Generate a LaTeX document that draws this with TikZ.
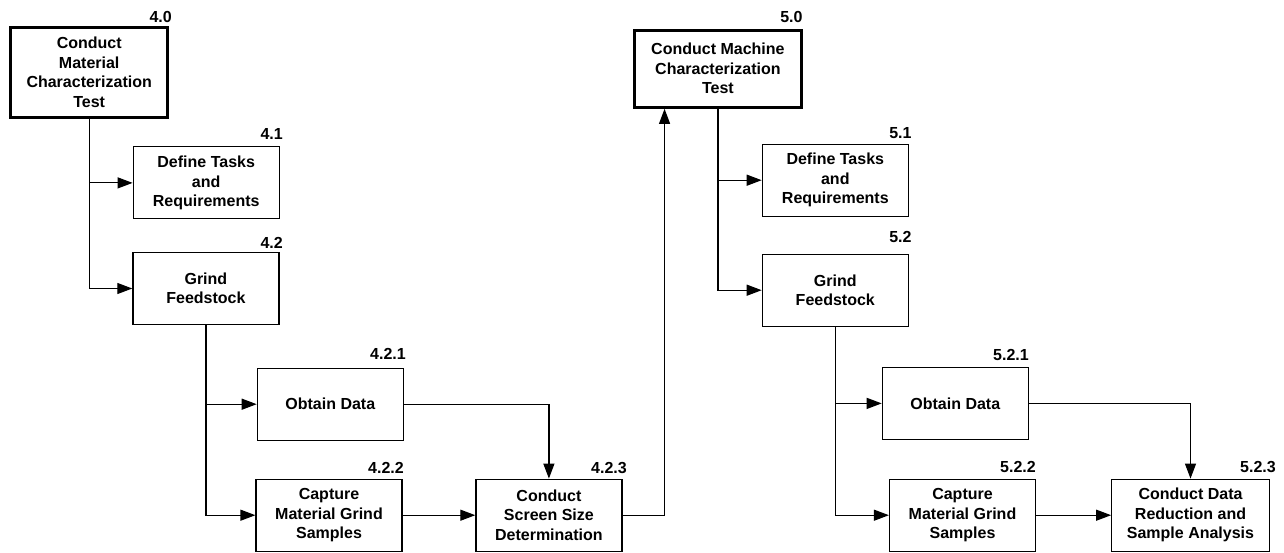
\documentclass[tikz,border=0pt]{standalone}
\usepackage{fontspec}
\setmainfont{Liberation Sans}
\usetikzlibrary{arrows.meta,calc}
\tikzset{
  box/.style={draw, line width=1.2pt, minimum width=146pt, minimum height=72pt, inner sep=2pt, align=center, font=\bfseries\fontsize{16}{19.5}\selectfont},
  topbox/.style={box, line width=3pt},
  lbl/.style={font=\bfseries\fontsize{16}{19}\selectfont, anchor=base east, inner sep=0pt},
  conn/.style={line width=1.2pt},
  arr/.style={conn, -{Triangle[length=15pt,width=11pt]}}
}
\begin{document}
\begin{tikzpicture}[x=1pt,y=-1pt]
\useasboundingbox (0,0) rectangle (1284,553);
% boxes
\node[topbox, minimum width=157pt, minimum height=89.6pt] (b40) at (89.2,72.5) {Conduct\\Material\\Characterization\\Test};
\node[box] (b41) at (206.2,182.9) {Define Tasks\\and\\Requirements};
\node[box] (b42) at (205.9,288.5) {Grind\\Feedstock};
\node[box] (b421) at (330.3,404.2) {Obtain Data};
\node[box] (b422) at (329,515.2) {Capture\\Material Grind\\Samples};
\node[box] (b423) at (548.9,515.2) {Conduct\\Screen Size\\Determination};
\node[topbox, minimum width=167.7pt, minimum height=77.3pt] (b50) at (717.9,68.7) {Conduct Machine\\Characterization\\Test};
\node[box] (b51) at (835.3,180.2) {Define Tasks\\and\\Requirements};
\node[box] (b52) at (835.3,290.2) {Grind\\Feedstock};
\node[box] (b521) at (955.3,403.4) {Obtain Data};
\node[box] (b522) at (962.5,515.2) {Capture\\Material Grind\\Samples};
\node[box, minimum width=157.6pt] (b523) at (1190.5,515.2) {Conduct Data\\Reduction and\\Sample Analysis};
% labels
\node[lbl] (l40) at (172,22.7) {4.0};
\node[lbl] (l41) at (283,140) {4.1};
\node[lbl] (l42) at (283,249) {4.2};
\node[lbl] (l421) at (406,359) {4.2.1};
\node[lbl] (l422) at (404,473) {4.2.2};
\node[lbl] (l423) at (627,473) {4.2.3};
\node[lbl] (l50) at (802.7,23) {5.0};
\node[lbl] (l51) at (911.7,139) {5.1};
\node[lbl] (l52) at (911.7,243) {5.2};
\node[lbl] (l521) at (1029,360) {5.2.1};
\node[lbl] (l522) at (1036,472) {5.2.2};
\node[lbl] (l523) at (1276,472) {5.2.3};
% connectors
\draw[arr] (b40.south) |- (b42.west);
\draw[arr] (b40.south |- b41.west) -- (b41.west);
\draw[arr] (b42.south) |- (b422.west);
\draw[arr] (b42.south |- b421.west) -- (b421.west);
\draw[arr] (b421.east) -| (b423.north);
\draw[arr] (b422.east) -- (b423.west);
\coordinate (c50) at ([xshift=32pt]b50.south west);
\draw[arr] (b423.east) -| (c50);
\draw[arr] (b50.south) |- (b52.west);
\draw[arr] (b50.south |- b51.west) -- (b51.west);
\draw[arr] (b52.south) |- (b522.west);
\draw[arr] (b52.south |- b521.west) -- (b521.west);
\draw[arr] (b521.east) -| (b523.north);
\draw[arr] (b522.east) -- (b523.west);
\end{tikzpicture}
\end{document}
